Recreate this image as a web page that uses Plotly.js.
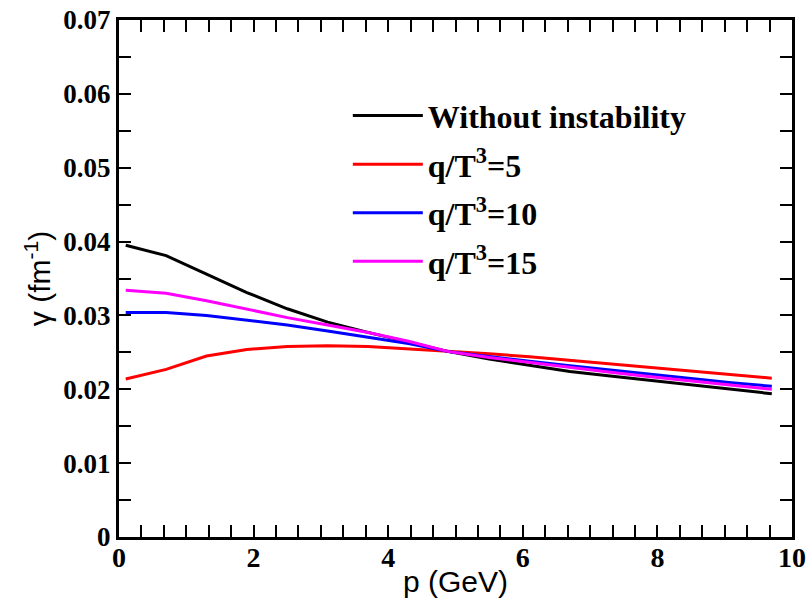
<!DOCTYPE html>
<html>
<head>
<meta charset="utf-8">
<script src="https://cdn.plot.ly/plotly-3.0.1.min.js"></script>
<style>html,body{margin:0;padding:0;background:#fff;}#chart{width:809px;height:607px;}</style>
</head>
<body>
<div id="chart"></div>
<script>
var p = [0.1, 0.7, 1.3, 1.9, 2.5, 3.1, 3.7, 4.3, 4.9, 5.5, 6.1, 6.7, 7.3, 7.9, 8.5, 9.1, 9.7];
var gammaNoInst = [0.0395, 0.0381, 0.0356, 0.0331, 0.0309, 0.0291, 0.0277, 0.0264, 0.0251, 0.0241, 0.0232, 0.0224, 0.0218, 0.0212, 0.0206, 0.0200, 0.0194];
var gammaQ5 = [0.0214, 0.0227, 0.0245, 0.0254, 0.0258, 0.0259, 0.0258, 0.0255, 0.0251, 0.0248, 0.0244, 0.0239, 0.0234, 0.0229, 0.0225, 0.0220, 0.0215];
var gammaQ10 = [0.0304, 0.0304, 0.0300, 0.0294, 0.0287, 0.0279, 0.0271, 0.0262, 0.0251, 0.0244, 0.0238, 0.0232, 0.0226, 0.0220, 0.0214, 0.0209, 0.0204];
var gammaQ15 = [0.0334, 0.0330, 0.0320, 0.0308, 0.0297, 0.0287, 0.0277, 0.0265, 0.0251, 0.0243, 0.0236, 0.0229, 0.0223, 0.0217, 0.0211, 0.0205, 0.0200];
var seriesNames = ['Without instability', 'q/T<sup>3</sup>=5', 'q/T<sup>3</sup>=10', 'q/T<sup>3</sup>=15'];
var seriesColors = ['#000000', '#ff0000', '#0000ff', '#ff00ff'];
var seriesData = [gammaNoInst, gammaQ5, gammaQ10, gammaQ15];

var traces = seriesData.map(function (y, i) {
  return {
    x: p, y: y, type: 'scatter', mode: 'lines',
    name: seriesNames[i], legendgroup: 'g' + i,
    line: {color: seriesColors[i], width: 3}
  };
});

var serif = 'Liberation Serif, Times New Roman, serif';
var sans = 'Liberation Sans, Arial, sans-serif';

var layout = {
  width: 809, height: 607,
  margin: {l: 119, r: 17, t: 20, b: 70},
  paper_bgcolor: '#fff', plot_bgcolor: '#fff',
  showlegend: true,
  legend: {
    x: 0.34, y: 0.868, xanchor: 'left', yanchor: 'top',
    bgcolor: 'rgba(0,0,0,0)',
    font: {family: serif, size: 32, color: '#000', weight: 'bold'},
    tracegroupgap: 4,
    itemwidth: 70
  },
  xaxis: {
    range: [0, 10], dtick: 2, tick0: 0,
    showgrid: false, zeroline: false,
    showline: true, linecolor: '#000', linewidth: 3, mirror: 'ticks',
    ticks: 'inside', ticklen: 12, tickwidth: 2, tickcolor: '#000',
    ticklabelstandoff: -7,
    minor: {dtick: 1/3, tick0: 0, ticks: 'inside', ticklen: 12, tickwidth: 2, tickcolor: '#000', showgrid: false},
    tickfont: {family: serif, size: 28, color: '#000', weight: 'bold'},
    title: {text: 'p (GeV)', font: {family: sans, size: 30, color: '#000'}, standoff: 0}
  },
  yaxis: {
    range: [0, 0.07], dtick: 0.01, tick0: 0,
    showgrid: false, zeroline: false,
    showline: true, linecolor: '#000', linewidth: 3, mirror: 'ticks',
    ticks: 'inside', ticklen: 12, tickwidth: 2, tickcolor: '#000',
    minor: {dtick: 0.005, tick0: 0, ticks: 'inside', ticklen: 12, tickwidth: 2, tickcolor: '#000', showgrid: false},
    tickfont: {family: serif, size: 27, color: '#000', weight: 'bold'},
    title: {text: 'γ (fm<sup>-1</sup>)', font: {family: sans, size: 30, color: '#000'}, standoff: 4}
  }
};

Plotly.newPlot('chart', traces, layout, {displayModeBar: false, staticPlot: true});
</script>
</body>
</html>
